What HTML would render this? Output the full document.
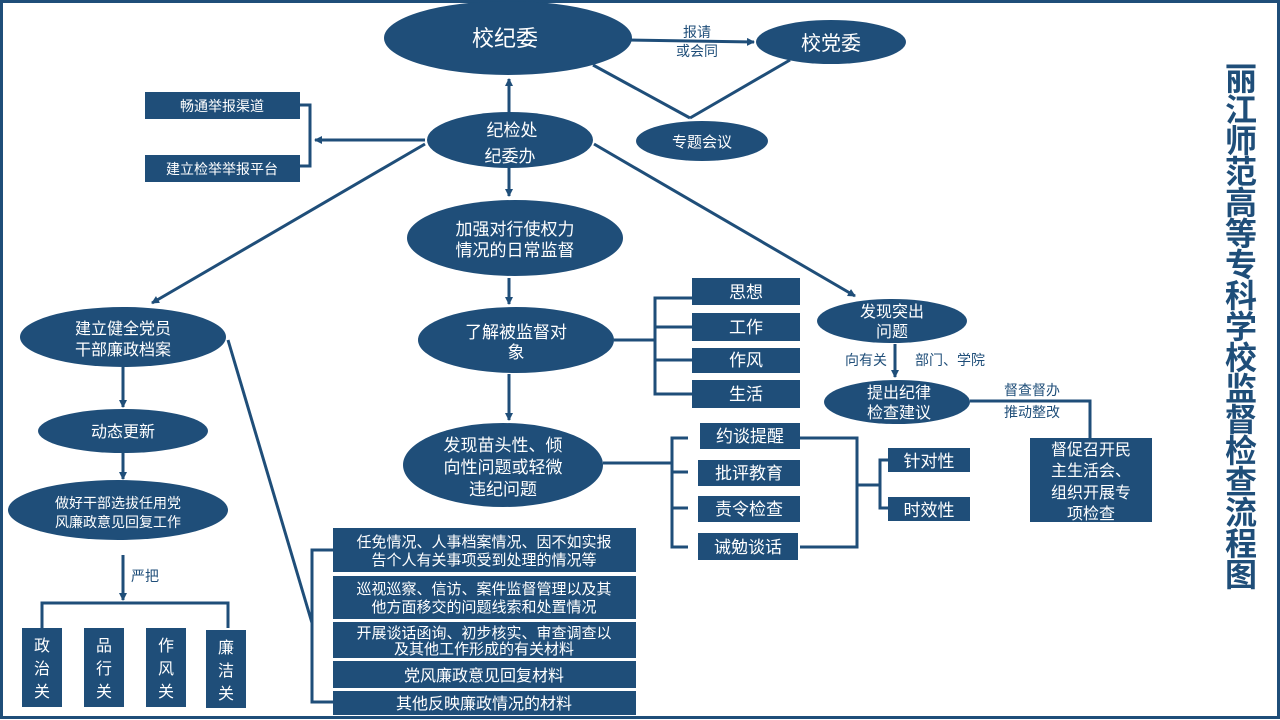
<!DOCTYPE html>
<html><head><meta charset="utf-8"><style>
html,body{margin:0;padding:0;background:#fff;}
svg{display:block;}
text{font-family:"Liberation Sans","Noto Sans CJK SC",sans-serif;}
.w{fill:#fff;text-anchor:middle;}
.d{fill:#1f4e79;}
</style></head><body>
<svg width="1280" height="720" viewBox="0 0 1280 720" xmlns="http://www.w3.org/2000/svg">
<defs>
<marker id="a" markerWidth="8" markerHeight="8" refX="7" refY="4" orient="auto" markerUnits="userSpaceOnUse"><path d="M0,0 L8,4 L0,8 z" fill="#1f4e79"/></marker>
</defs>
<rect x="1.5" y="1.5" width="1277" height="716" fill="none" stroke="#1f4e79" stroke-width="3"/>
<g stroke="#1f4e79" stroke-width="3" fill="none">
<line x1="628" y1="40" x2="754" y2="42" marker-end="url(#a)"/>
<line x1="593" y1="65" x2="690" y2="118"/>
<line x1="790" y1="60" x2="690" y2="118"/>
<line x1="509" y1="112" x2="509" y2="79" marker-end="url(#a)"/>
<line x1="509" y1="168" x2="509" y2="196" marker-end="url(#a)"/>
<polyline points="300,105 310,105 310,166 300,166"/>
<line x1="425" y1="140" x2="315" y2="140" marker-end="url(#a)"/>
<line x1="425" y1="144" x2="152" y2="303" marker-end="url(#a)"/>
<line x1="594" y1="144" x2="855" y2="296" marker-end="url(#a)"/>
<line x1="509" y1="278" x2="509" y2="304" marker-end="url(#a)"/>
<line x1="614" y1="340" x2="655" y2="340"/>
<polyline points="692,298 655,298 655,394 692,394"/>
<line x1="655" y1="327" x2="692" y2="327"/>
<line x1="655" y1="360" x2="692" y2="360"/>
<line x1="509" y1="374" x2="509" y2="420" marker-end="url(#a)"/>
<line x1="603" y1="463" x2="672" y2="463"/>
<polyline points="688,438 672,438 672,547 688,547"/>
<line x1="672" y1="472" x2="688" y2="472"/>
<line x1="672" y1="508" x2="688" y2="508"/>
<polyline points="800,438 857,438 857,547 800,547"/>
<line x1="857" y1="485" x2="880" y2="485"/>
<polyline points="888,460 880,460 880,508 888,508"/>
<line x1="895" y1="344" x2="895" y2="377" marker-end="url(#a)"/>
<polyline points="970,401 1090,401 1090,438"/>
<line x1="123" y1="367" x2="123" y2="407" marker-end="url(#a)"/>
<line x1="123" y1="453" x2="123" y2="479" marker-end="url(#a)"/>
<line x1="123" y1="555" x2="123" y2="600" marker-end="url(#a)"/>
<polyline points="42,628 42,603 228,603 228,628"/>
<line x1="228" y1="340" x2="312" y2="623"/>
<polyline points="333,550 312,550 312,702 333,702"/>
</g>
<g fill="#1f4e79">
<ellipse cx="508" cy="38" rx="124" ry="37"/>
<ellipse cx="831" cy="42" rx="75" ry="22"/>
<ellipse cx="702" cy="141" rx="66" ry="20"/>
<ellipse cx="510" cy="140" rx="83" ry="28"/>
<ellipse cx="515" cy="238" rx="108" ry="38"/>
<ellipse cx="516" cy="340" rx="98" ry="33"/>
<ellipse cx="503" cy="465" rx="100" ry="42"/>
<ellipse cx="892" cy="321" rx="75" ry="22"/>
<ellipse cx="897" cy="402" rx="73" ry="22"/>
<ellipse cx="123" cy="337" rx="103" ry="30"/>
<ellipse cx="123" cy="431" rx="85" ry="22"/>
<ellipse cx="118" cy="510" rx="110" ry="30"/>
<rect x="145" y="92" width="155" height="27"/>
<rect x="145" y="155" width="155" height="27"/>
<rect x="692" y="278" width="108" height="27"/>
<rect x="692" y="313" width="108" height="28"/>
<rect x="692" y="348" width="108" height="25"/>
<rect x="692" y="380" width="108" height="28"/>
<rect x="700" y="423" width="100" height="26"/>
<rect x="698" y="460" width="102" height="26"/>
<rect x="698" y="496" width="102" height="26"/>
<rect x="698" y="533" width="100" height="27"/>
<rect x="888" y="448" width="82" height="24"/>
<rect x="888" y="497" width="82" height="24"/>
<rect x="1030" y="438" width="122" height="84"/>
<rect x="22" y="628" width="40" height="79"/>
<rect x="84" y="628" width="40" height="79"/>
<rect x="146" y="628" width="40" height="79"/>
<rect x="206" y="630" width="40" height="78"/>
<rect x="333" y="528" width="303" height="44"/>
<rect x="333" y="576" width="303" height="43"/>
<rect x="333" y="622" width="303" height="36"/>
<rect x="333" y="661" width="303" height="27"/>
<rect x="333" y="691" width="303" height="24"/>
</g>
<g class="w">
<text x="505" y="46" font-size="22">校纪委</text>
<text x="831" y="50" font-size="20">校党委</text>
<text x="702" y="147" font-size="15">专题会议</text>
<text x="512" y="136" font-size="17">纪检处</text>
<text x="510" y="162" font-size="17">纪委办</text>
<text x="515" y="235" font-size="17">加强对行使权力</text>
<text x="515" y="256" font-size="17">情况的日常监督</text>
<text x="516" y="338" font-size="17">了解被监督对</text>
<text x="516" y="358" font-size="17">象</text>
<text x="503" y="451" font-size="17">发现苗头性、倾</text>
<text x="503" y="473" font-size="17">向性问题或轻微</text>
<text x="503" y="495" font-size="17">违纪问题</text>
<text x="892" y="317" font-size="16">发现突出</text>
<text x="892" y="337" font-size="16">问题</text>
<text x="899" y="398" font-size="16">提出纪律</text>
<text x="899" y="418" font-size="16">检查建议</text>
<text x="123" y="334" font-size="16">建立健全党员</text>
<text x="123" y="355" font-size="16">干部廉政档案</text>
<text x="123" y="437" font-size="16">动态更新</text>
<text x="118" y="508" font-size="14">做好干部选拔任用党</text>
<text x="118" y="527" font-size="14">风廉政意见回复工作</text>
<text x="222" y="111" font-size="14">畅通举报渠道</text>
<text x="222" y="174" font-size="14">建立检举举报平台</text>
<text x="746" y="298" font-size="17">思想</text>
<text x="746" y="333" font-size="17">工作</text>
<text x="746" y="366" font-size="17">作风</text>
<text x="746" y="400" font-size="17">生活</text>
<text x="750" y="442" font-size="17">约谈提醒</text>
<text x="749" y="479" font-size="17">批评教育</text>
<text x="749" y="515" font-size="17">责令检查</text>
<text x="748" y="553" font-size="17">诫勉谈话</text>
<text x="929" y="467" font-size="17">针对性</text>
<text x="929" y="516" font-size="17">时效性</text>
<text x="1091" y="455" font-size="16">督促召开民</text>
<text x="1091" y="476" font-size="16">主生活会、</text>
<text x="1091" y="498" font-size="16">组织开展专</text>
<text x="1091" y="519" font-size="16">项检查</text>
<g font-size="16">
<text x="42" y="651">政</text><text x="42" y="674">治</text><text x="42" y="697">关</text>
<text x="104" y="651">品</text><text x="104" y="674">行</text><text x="104" y="697">关</text>
<text x="166" y="651">作</text><text x="166" y="674">风</text><text x="166" y="697">关</text>
<text x="226" y="653">廉</text><text x="226" y="676">洁</text><text x="226" y="699">关</text>
</g>
<text x="484" y="547" font-size="15">任免情况、人事档案情况、因不如实报</text>
<text x="484" y="565" font-size="15">告个人有关事项受到处理的情况等</text>
<text x="484" y="594" font-size="15">巡视巡察、信访、案件监督管理以及其</text>
<text x="484" y="612" font-size="15">他方面移交的问题线索和处置情况</text>
<text x="484" y="638" font-size="15">开展谈话函询、初步核实、审查调查以</text>
<text x="484" y="654" font-size="15">及其他工作形成的有关材料</text>
<text x="484" y="681" font-size="16">党风廉政意见回复材料</text>
<text x="484" y="709" font-size="16">其他反映廉政情况的材料</text>
</g>
<g class="d" font-size="14" text-anchor="middle">
<text x="697" y="37">报请</text>
<text x="697" y="56">或会同</text>
<text x="866" y="365">向有关</text>
<text x="950" y="365">部门、学院</text>
<text x="1032" y="395">督查督办</text>
<text x="1032" y="417">推动整改</text>
<text x="145" y="581">严把</text>
</g>
<g fill="#1f4e79" font-size="32" font-weight="bold" text-anchor="middle" style="font-family:'Liberation Serif','Noto Serif CJK SC',serif">
<text x="1241" y="90">丽</text><text x="1241" y="121">江</text><text x="1241" y="152">师</text><text x="1241" y="183">范</text><text x="1241" y="214">高</text><text x="1241" y="245">等</text><text x="1241" y="276">专</text><text x="1241" y="307">科</text><text x="1241" y="338">学</text><text x="1241" y="369">校</text><text x="1241" y="400">监</text><text x="1241" y="431">督</text><text x="1241" y="462">检</text><text x="1241" y="493">查</text><text x="1241" y="524">流</text><text x="1241" y="555">程</text><text x="1241" y="586">图</text>
</g>
</svg>
</body></html>
